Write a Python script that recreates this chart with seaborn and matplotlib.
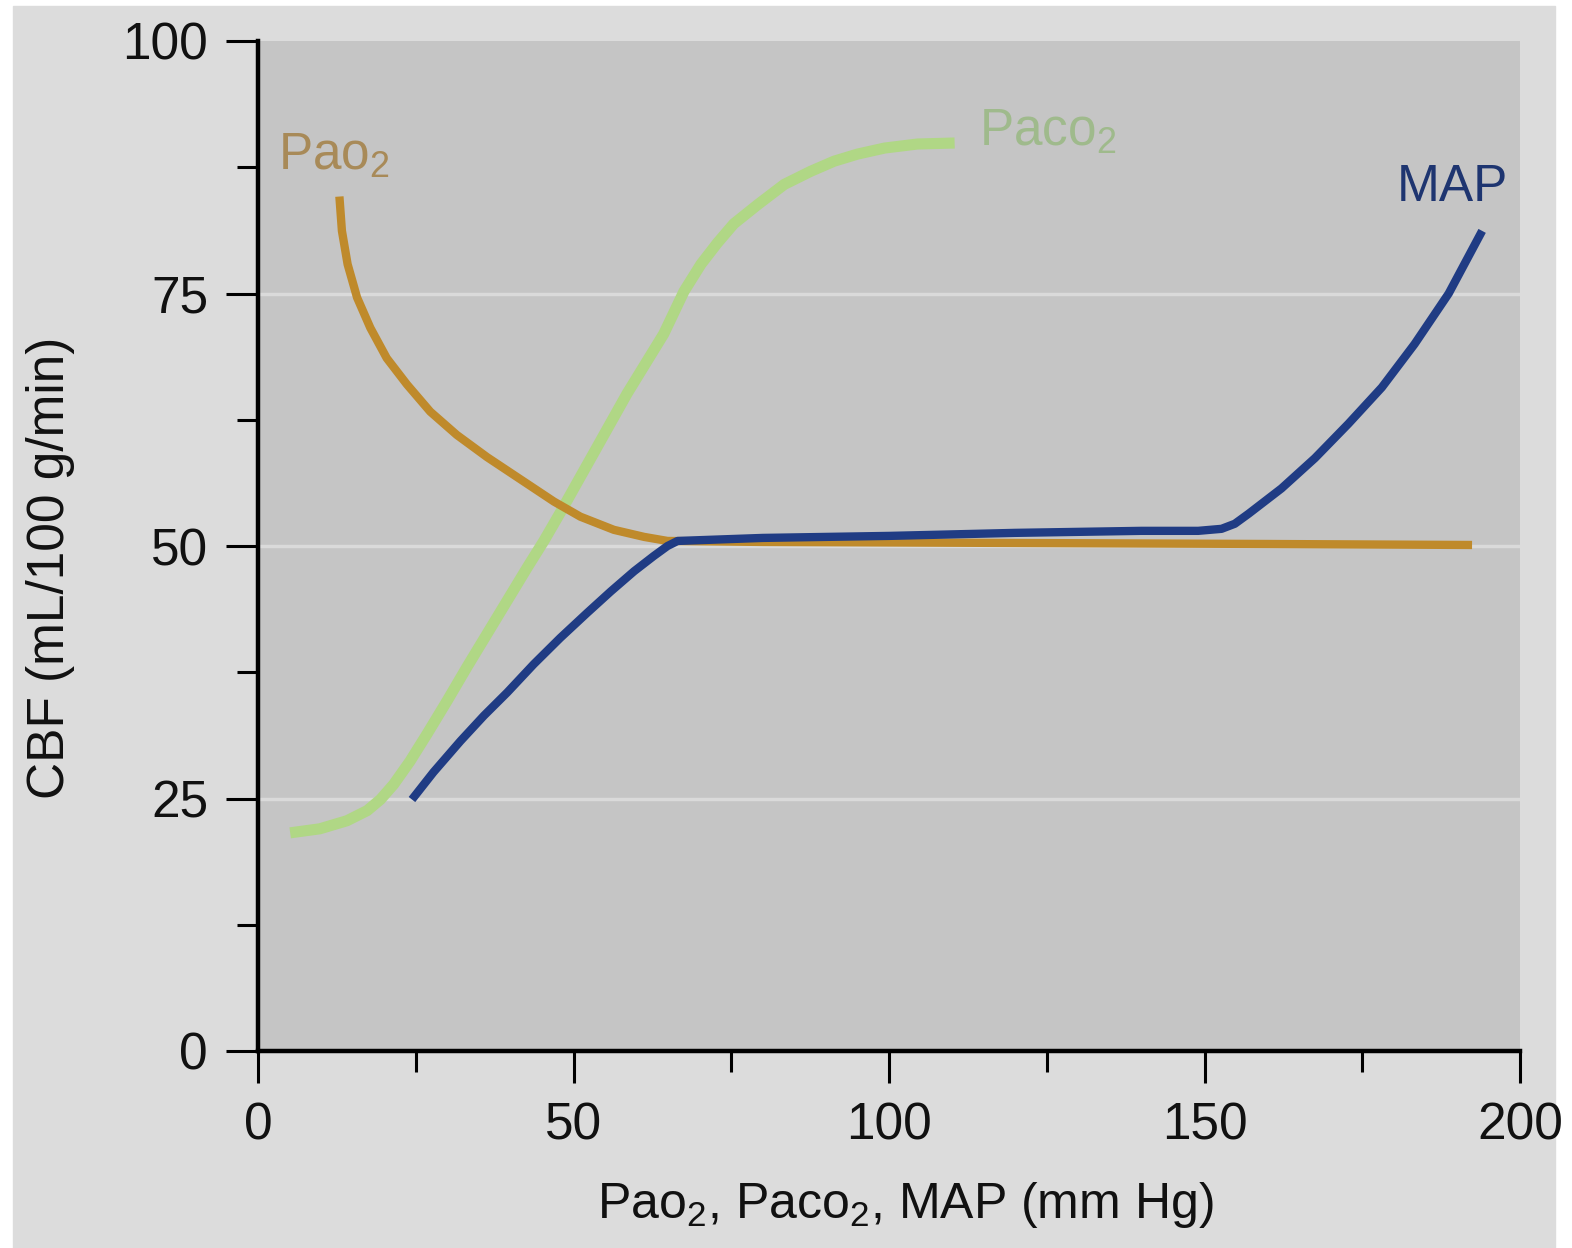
import pandas as pd
import matplotlib.pyplot as plt
import seaborn as sns
from matplotlib.ticker import MultipleLocator
from matplotlib.patches import Rectangle

# values (x in mm Hg, y = CBF in mL/100 g/min)
pao2_x = [12.9, 13.3, 14.2, 15.7, 17.8, 20.4, 23.6, 27.3, 31.5, 36.3, 41.6, 46.9,
          51.1, 56.4, 61.2, 64.9, 80.0, 120.0, 160.0, 192.4]
pao2_y = [84.6, 81.2, 77.9, 74.6, 71.6, 68.6, 66.0, 63.3, 61.0, 58.8, 56.6, 54.4,
          52.9, 51.6, 50.9, 50.5, 50.4, 50.3, 50.2, 50.1]

paco2_x = [5.1, 9.8, 14.1, 17.3, 19.4, 21.5, 24.1, 26.8, 30.0, 33.1, 36.3, 39.5,
           42.7, 45.3, 47.9, 53.2, 58.5, 64.3, 67.5, 70.2, 72.8, 75.4, 79.2, 83.4,
           87.6, 91.3, 95.0, 99.3, 104.5, 110.4]
paco2_y = [21.6, 22.0, 22.8, 23.8, 24.9, 26.4, 28.7, 31.4, 34.7, 38.0, 41.3, 44.6,
           47.9, 50.5, 53.3, 59.2, 65.1, 71.0, 75.2, 77.9, 80.0, 81.9, 83.8, 85.8,
           87.1, 88.1, 88.8, 89.4, 89.8, 89.9]

map_x = [24.4, 27.8, 32.1, 35.8, 39.5, 43.7, 47.9, 52.2, 55.9, 59.6, 62.7, 64.9,
         66.5, 80.0, 100.0, 120.0, 140.0, 149.0, 152.7, 154.8, 157.0, 162.2, 167.5,
         172.8, 178.1, 183.3, 188.7, 194.0]
map_y = [24.9, 27.6, 30.7, 33.2, 35.5, 38.3, 40.9, 43.4, 45.5, 47.5, 49.0, 50.0,
         50.5, 50.8, 51.0, 51.3, 51.5, 51.5, 51.7, 52.2, 53.2, 55.7, 58.7,
         62.1, 65.7, 70.0, 75.0, 81.2]

x_ticks = [0, 50, 100, 150, 200]
y_ticks = [0, 25, 50, 75, 100]
grid_levels = [25, 50, 75]

df = pd.concat([
    pd.DataFrame({"x": pao2_x, "y": pao2_y, "curve": "Pao2"}),
    pd.DataFrame({"x": paco2_x, "y": paco2_y, "curve": "Paco2"}),
    pd.DataFrame({"x": map_x, "y": map_y, "curve": "MAP"}),
], ignore_index=True)

sns.set_theme(style="ticks")
plt.rcParams['font.family'] = ['Liberation Sans', 'DejaVu Sans']
plt.rcParams['mathtext.default'] = 'regular'

fig = plt.figure(figsize=(15.72, 12.48), dpi=100, facecolor='white')
fig.patches.append(Rectangle((13 / 1572, 0), (1555 - 13) / 1572, 1 - 6 / 1248,
                             transform=fig.transFigure, color='#dcdcdc', zorder=-10))
ax = fig.add_axes([258 / 1572, 1 - 1051 / 1248, 1262 / 1572, 1010 / 1248])
ax.set_facecolor('#c5c5c5')

for g in grid_levels:
    ax.axhline(g, color='#dadada', lw=2.5, zorder=0)

styles = {
    "Pao2": dict(color='#bf8a2b', lw=6),
    "Paco2": dict(color='#b0d785', lw=8),
    "MAP": dict(color='#203c84', lw=6),
}
for name in ["Paco2", "Pao2", "MAP"]:
    d = df[df["curve"] == name]
    sns.lineplot(data=d, x="x", y="y", ax=ax, estimator=None, sort=False,
                 color=styles[name]["color"], linewidth=styles[name]["lw"],
                 solid_capstyle='butt', solid_joinstyle='round')

ax.text(3.2, 87.3, 'Pao$_2$', color='#a88a58', fontsize=37, ha='left', va='baseline')
ax.text(114.3, 89.6, 'Paco$_2$', color='#9fba8c', fontsize=37, ha='left', va='baseline')
ax.text(198.1, 84.2, 'MAP', color='#1e3570', fontsize=37, ha='right', va='baseline')

ax.set_xlim(0, 200)
ax.set_ylim(0, 100)
ax.set_xticks(x_ticks)
ax.set_yticks(y_ticks)
ax.xaxis.set_minor_locator(MultipleLocator(25))
ax.yaxis.set_minor_locator(MultipleLocator(12.5))
ax.tick_params(which='major', length=23, width=2.2, direction='out', labelsize=37,
               pad=13, color='black', labelcolor='#111111')
ax.tick_params(which='minor', length=15, width=2.2, direction='out', color='black')

for s in ['top', 'right']:
    ax.spines[s].set_visible(False)
for s in ['left', 'bottom']:
    ax.spines[s].set_linewidth(3.2)
    ax.spines[s].set_color('black')

ax.set_xlabel('Pao$_2$, Paco$_2$, MAP (mm Hg)', fontsize=36, color='#111111')
ax.set_ylabel('CBF (mL/100 g/min)', fontsize=37, color='#111111')
ax.xaxis.set_label_coords(0.513, -0.128)
ax.yaxis.set_label_coords(-0.145, 0.478)

fig.savefig('out.png', dpi=100, facecolor=fig.get_facecolor())
